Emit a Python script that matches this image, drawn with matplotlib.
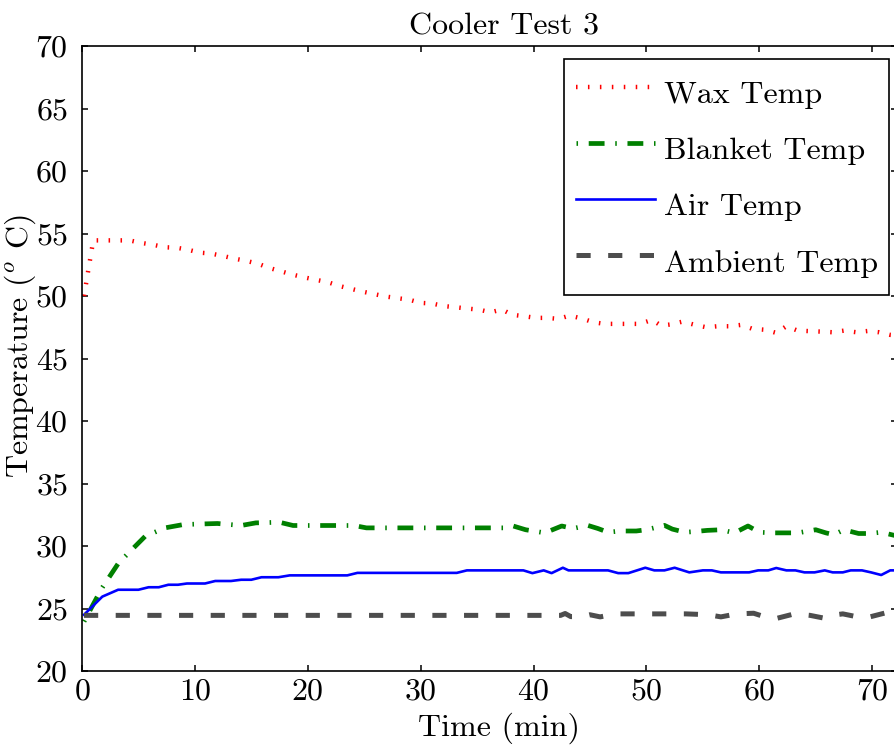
import matplotlib
matplotlib.use("Agg")
import matplotlib.pyplot as plt

plt.rcParams['font.family'] = 'serif'
plt.rcParams['font.serif'] = ['cmr10', 'DejaVu Serif']
plt.rcParams['mathtext.fontset'] = 'cm'
plt.rcParams['axes.formatter.use_mathtext'] = True
plt.rcParams['lines.scale_dashes'] = False

# data (time in min, temperatures in deg C)
wax_t = [0.18, 0.6, 1.0, 4.2, 5.3, 6.3, 7.35, 8.4, 9.4, 10.4, 11.4, 12.5, 13.5, 14.6,
         15.6, 16.6, 17.65, 18.7, 19.7, 20.7, 21.8, 22.8, 23.8, 24.8, 25.9, 26.9,
         27.9, 29.0, 30.0, 31.0, 32.1, 33.1, 34.1, 35.2, 36.2, 37.2, 38.1, 39.1,
         40.2, 41.2, 42.2, 43.2, 44.3, 45.3, 46.3, 49.4, 50.5, 51.3, 52.1, 53.2,
         54.3, 55.3, 56.3, 57.4, 58.4, 59.4, 60.5, 61.5, 62.4, 63.4, 65.5, 66.5,
         67.5, 68.6, 69.6, 70.6, 71.6, 72.2]
wax_v = [50.0, 52.3, 54.45, 54.45, 54.24, 54.1, 53.9, 53.86, 53.7, 53.47, 53.4, 53.2,
         52.99, 52.8, 52.58, 52.24, 51.97, 51.7, 51.49, 51.3, 51.1, 50.8, 50.58,
         50.36, 50.15, 49.96, 49.83, 49.7, 49.45, 49.4, 49.19, 49.1, 49.0, 48.9,
         48.7, 48.92, 48.5, 48.39, 48.25, 48.25, 48.17, 48.43, 48.2, 47.9, 47.77,
         47.77, 48.09, 47.63, 47.72, 47.95, 47.69, 47.5, 47.58, 47.58, 47.69, 47.37,
         47.3, 47.05, 47.58, 47.23, 47.15, 47.1, 47.23, 47.1, 47.2, 47.1, 46.89, 46.85]

blanket_t = [0.18, 1.77, 3.24, 5.6, 7.35, 9.0, 12.0, 14.1, 15.4, 17.5, 18.7, 24.1,
             25.2, 37.6, 38.2, 39.3, 41.0, 42.5, 43.5, 44.8, 45.7, 46.6, 47.7, 49.1,
             50.0, 51.6, 52.3, 53.4, 54.2, 55.4, 56.6, 57.8, 59.0, 60.0, 61.2, 62.5,
             63.4, 65.0, 65.9, 66.6, 67.5, 68.8, 69.8, 70.8, 72.2]
blanket_v = [23.96, 26.64, 28.64, 30.78, 31.45, 31.72, 31.8, 31.64, 31.85, 31.9, 31.64,
             31.64, 31.45, 31.45, 31.6, 31.3, 31.05, 31.6, 31.4, 31.65, 31.4, 31.1,
             31.2, 31.2, 31.3, 31.65, 31.35, 31.1, 31.15, 31.25, 31.3, 31.05, 31.6,
             31.1, 31.05, 31.05, 31.05, 31.3, 31.05, 30.9, 31.3, 31.0, 31.0, 31.1, 30.8]

air_t = [0.18, 1.8, 3.2, 5.0, 5.9, 6.8, 7.65, 8.5, 9.3, 10.9, 11.8, 13.2, 14.1, 15.0,
         15.9, 17.4, 18.4, 23.5, 24.4, 33.2, 34.1, 39.1, 39.9, 40.9, 41.6, 42.6, 43.1,
         46.6, 47.5, 48.4, 49.9, 50.7, 51.6, 52.5, 53.8, 55.0, 55.8, 56.6, 59.1, 59.9,
         60.8, 61.5, 62.4, 63.2, 64.0, 64.9, 65.8, 66.5, 67.4, 68.1, 69.1, 69.9, 70.8,
         71.6, 72.2]
air_v = [24.5, 25.95, 26.5, 26.5, 26.7, 26.7, 26.9, 26.9, 27.0, 27.0, 27.2, 27.2, 27.3,
         27.3, 27.5, 27.5, 27.65, 27.65, 27.85, 27.85, 28.05, 28.05, 27.83, 28.05,
         27.83, 28.26, 28.05, 28.05, 27.83, 27.83, 28.26, 28.05, 28.05, 28.26, 27.89,
         28.05, 28.05, 27.89, 27.89, 28.05, 28.05, 28.24, 28.05, 28.05, 27.89, 27.89,
         28.05, 27.89, 27.89, 28.05, 28.05, 27.89, 27.68, 28.05, 28.05]

ambient_t = [0.18, 42.4, 42.8, 43.3, 44.3, 45.0, 45.9, 46.6, 47.5, 53.5, 55.5, 56.6,
             58.0, 59.5, 60.5, 61.5, 63.1, 64.5, 65.9, 66.8, 67.4, 68.7, 69.8, 71.4, 72.2]
ambient_v = [24.45, 24.45, 24.6, 24.35, 24.35, 24.5, 24.33, 24.45, 24.57, 24.57, 24.5,
             24.33, 24.57, 24.62, 24.33, 24.2, 24.57, 24.45, 24.2, 24.5, 24.57, 24.33,
             24.33, 24.7, 24.6]

W, H = 894, 752
fig = plt.figure(figsize=(W / 100, H / 100), dpi=100)
ax = fig.add_axes([82 / W, (H - 671) / H, (897 - 82) / W, (671 - 46) / H])

ax.plot(wax_t, wax_v, color='red', lw=3.2, dashes=(1.1, 7.5), label='Wax Temp')
ax.plot(blanket_t, blanket_v, color='green', lw=3.4, dashes=(1.1, 7.7, 11.4, 7.7),
        label='Blanket Temp')
ax.plot(air_t, air_v, color='blue', lw=1.9, label='Air Temp')
ax.plot(ambient_t, ambient_v, color='#4d4d4d', lw=3.6, dashes=(10.2, 12.6),
        label='Ambient Temp')

ax.set_xlim(0.16, 72.2)
ax.set_ylim(20, 70)
ax.set_xticks(range(0, 80, 10))
ax.set_yticks(range(20, 75, 5))
ax.tick_params(direction='in', top=True, right=True, length=4, width=1.1,
               labelsize=23)
ax.tick_params(axis='x', pad=5)
ax.tick_params(axis='y', pad=10)
for s in ax.spines.values():
    s.set_linewidth(1.2)

ax.set_title('Cooler Test 3', fontsize=23, x=0.518, pad=8)
ax.set_xlabel('Time (min)', fontsize=23)
ax.xaxis.set_label_coords(0.512, -0.066)
ax.set_ylabel(r'Temperature ($^o$ C)', fontsize=23)
ax.yaxis.set_label_coords(-0.054, 0.52)

leg = ax.legend(loc='upper right', bbox_to_anchor=(889.3 / W, 1 - 59 / H),
                bbox_transform=fig.transFigure, borderaxespad=0, fontsize=23,
                fancybox=False, framealpha=1, edgecolor='black',
                handlelength=2.47, handletextpad=0.28, handleheight=1.76,
                labelspacing=0.37, borderpad=0.36)
leg.get_frame().set_linewidth(1.2)

fig.savefig('out.png', dpi=100)
